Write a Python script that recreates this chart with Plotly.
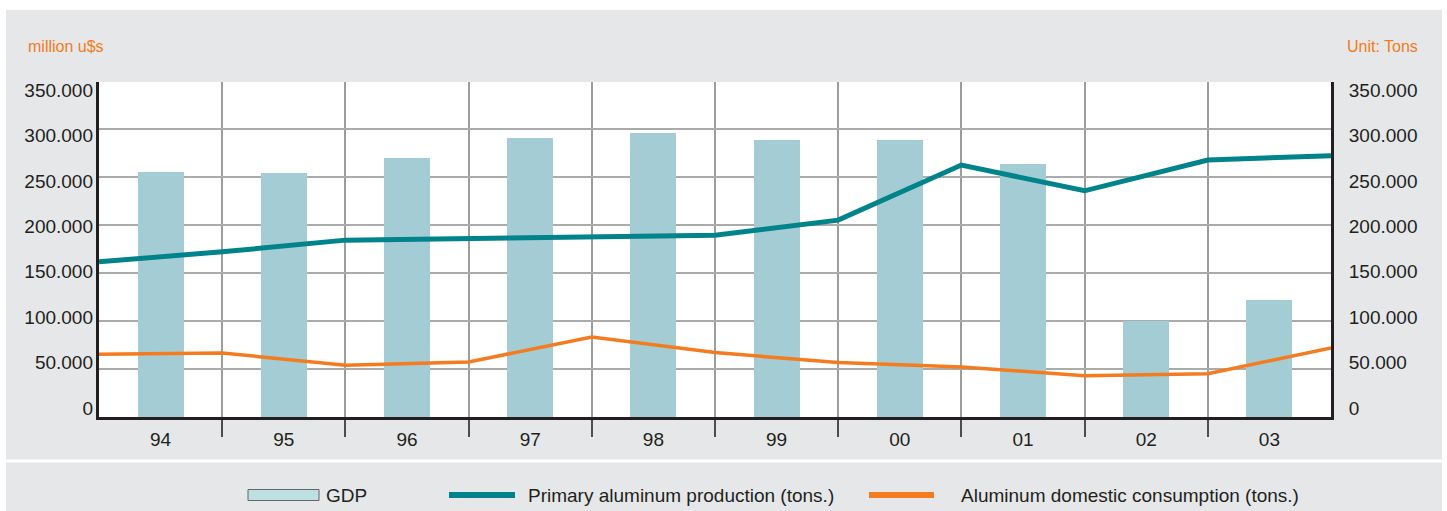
import plotly.graph_objects as go

# ---------------- data ----------------
years = ["94", "95", "96", "97", "98", "99", "00", "01", "02", "03"]
gdp = [254800, 253800, 269400, 290200, 295400, 288100, 288100, 263100, 99600, 121500]
# line series are plotted at the category boundaries (11 points)
primary_production = [161400, 171800, 184000, 185700, 187400, 189200, 204800,
                      262100, 235300, 267300, 271800]
domestic_consumption = [65200, 66600, 53800, 57200, 83200, 67000, 56600,
                        52000, 43000, 45000, 71800]
tick_values = [0, 50000, 100000, 150000, 200000, 250000, 300000, 350000]
tick_labels = ["0", "50.000", "100.000", "150.000", "200.000", "250.000",
               "300.000", "350.000"]

# ---------------- layout geometry ----------------
W, H = 1447, 511
ML, MR, MT, MB = 99, 116, 82, 94
PW, PH = W - ML - MR, H - MT - MB


def fx(p):
    return (p - ML) / PW


def fy(p):
    return (H - MB - p) / PH


TEAL = "#00838a"
ORANGE = "#f47b20"
BAR = "#a3ccd4"
DARK = "#231f20"
GRAY_BG = "#e6e7e8"
FONT = "Liberation Sans, Arial, sans-serif"

bar_x = [i + 0.5 for i in range(len(years))]
line_x = list(range(len(primary_production)))
inner_bounds = list(range(1, len(years)))

data_max = 348500
# label axes: labels are spread slightly differently than gridlines
lab_lo, lab_hi = -9900, 358800

fig = go.Figure()
fig.add_trace(go.Bar(x=bar_x, y=gdp, width=0.373, marker=dict(color=BAR, line=dict(width=0)),
                     name="GDP", showlegend=False))
fig.add_trace(go.Scatter(x=line_x, y=primary_production, mode="lines",
                         line=dict(color=TEAL, width=5), name="Primary aluminum production (tons.)",
                         showlegend=False))
fig.add_trace(go.Scatter(x=line_x, y=domestic_consumption, mode="lines",
                         line=dict(color=ORANGE, width=3.5), name="Aluminum domestic consumption (tons.)",
                         showlegend=False))
# empty traces to attach label axes
fig.add_trace(go.Scatter(x=[], y=[], yaxis="y2", showlegend=False, hoverinfo="skip"))
fig.add_trace(go.Scatter(x=[], y=[], yaxis="y3", showlegend=False, hoverinfo="skip"))

tickfont = dict(family=FONT, size=19, color=DARK)

fig.update_layout(
    width=W, height=H,
    margin=dict(l=ML, r=MR, t=MT, b=MB, pad=0),
    paper_bgcolor=GRAY_BG,
    plot_bgcolor="white",
    showlegend=False,
    bargap=0,
    xaxis=dict(
        range=[0, 10], tickmode="array", tickvals=bar_x, ticktext=years,
        ticks="", showgrid=False, zeroline=False,
        showline=True, linecolor=DARK, linewidth=3,
        tickfont=tickfont, ticklabelstandoff=3,
        minor=dict(tickmode="array", tickvals=inner_bounds, ticks="outside", ticklen=17,
                   tickcolor="#4d4d4d", tickwidth=1.5, showgrid=True, gridcolor="#9e9e9e",
                   gridwidth=1.5),
    ),
    yaxis=dict(
        range=[0, data_max], tickmode="array", tickvals=tick_values,
        showticklabels=False, ticks="", showgrid=True, gridcolor="#ababab", gridwidth=1.5,
        zeroline=False, showline=True, linecolor=DARK, linewidth=3,
    ),
    yaxis2=dict(
        overlaying="y", side="right", anchor="x", range=[lab_lo, lab_hi],
        tickmode="array", tickvals=tick_values, ticktext=tick_labels,
        ticks="", showgrid=False, zeroline=False,
        showline=True, linecolor=DARK, linewidth=3,
        tickfont=tickfont, ticklabelstandoff=11,
    ),
    yaxis3=dict(
        overlaying="y", side="left", anchor="x", range=[lab_lo, lab_hi],
        tickmode="array", tickvals=tick_values, ticktext=tick_labels,
        ticks="", showgrid=False, zeroline=False, showline=False,
        tickfont=tickfont, ticklabelstandoff=5,
    ),
)

shapes = []
# white outer strips
shapes.append(dict(type="rect", xref="paper", yref="paper", x0=fx(0), x1=fx(W), y0=fy(10), y1=fy(0),
                   fillcolor="white", line=dict(width=0), layer="above"))
shapes.append(dict(type="rect", xref="paper", yref="paper", x0=fx(0), x1=fx(6), y0=fy(H), y1=fy(0),
                   fillcolor="white", line=dict(width=0), layer="above"))
shapes.append(dict(type="rect", xref="paper", yref="paper", x0=fx(1442), x1=fx(W), y0=fy(H), y1=fy(0),
                   fillcolor="white", line=dict(width=0), layer="above"))
# white separator line
shapes.append(dict(type="line", xref="paper", yref="paper", x0=fx(6), x1=fx(1442), y0=fy(461), y1=fy(461),
                   line=dict(color="white", width=3)))
# legend symbols
shapes.append(dict(type="rect", xref="paper", yref="paper", x0=fx(248), x1=fx(319), y0=fy(500.5), y1=fy(489.5),
                   fillcolor="#bde0e3", line=dict(color="#666666", width=1)))
shapes.append(dict(type="line", xref="paper", yref="paper", x0=fx(449), x1=fx(515), y0=fy(495), y1=fy(495),
                   line=dict(color=TEAL, width=6)))
shapes.append(dict(type="line", xref="paper", yref="paper", x0=fx(869), x1=fx(934), y0=fy(495), y1=fy(495),
                   line=dict(color=ORANGE, width=6)))
fig.update_layout(shapes=shapes)

ann_common = dict(xref="paper", yref="paper", showarrow=False, xanchor="left", yanchor="middle",
                  borderpad=0)
leg_font = dict(family=FONT, size=19, color=DARK)
annotations = [
    dict(text="million u$s", x=fx(27), y=fy(46.5), font=dict(family=FONT, size=16, color=ORANGE), **ann_common),
    dict(text="Unit: Tons", x=fx(1346), y=fy(46.5), font=dict(family=FONT, size=16, color=ORANGE), **ann_common),
    dict(text="GDP", x=fx(325), y=fy(495), font=leg_font, **ann_common),
    dict(text="Primary aluminum production (tons.)", x=fx(527), y=fy(495), font=leg_font, **ann_common),
    dict(text="Aluminum domestic consumption (tons.)", x=fx(960), y=fy(495), font=leg_font, **ann_common),
]
fig.update_layout(annotations=annotations)

fig.write_html("out.html")
